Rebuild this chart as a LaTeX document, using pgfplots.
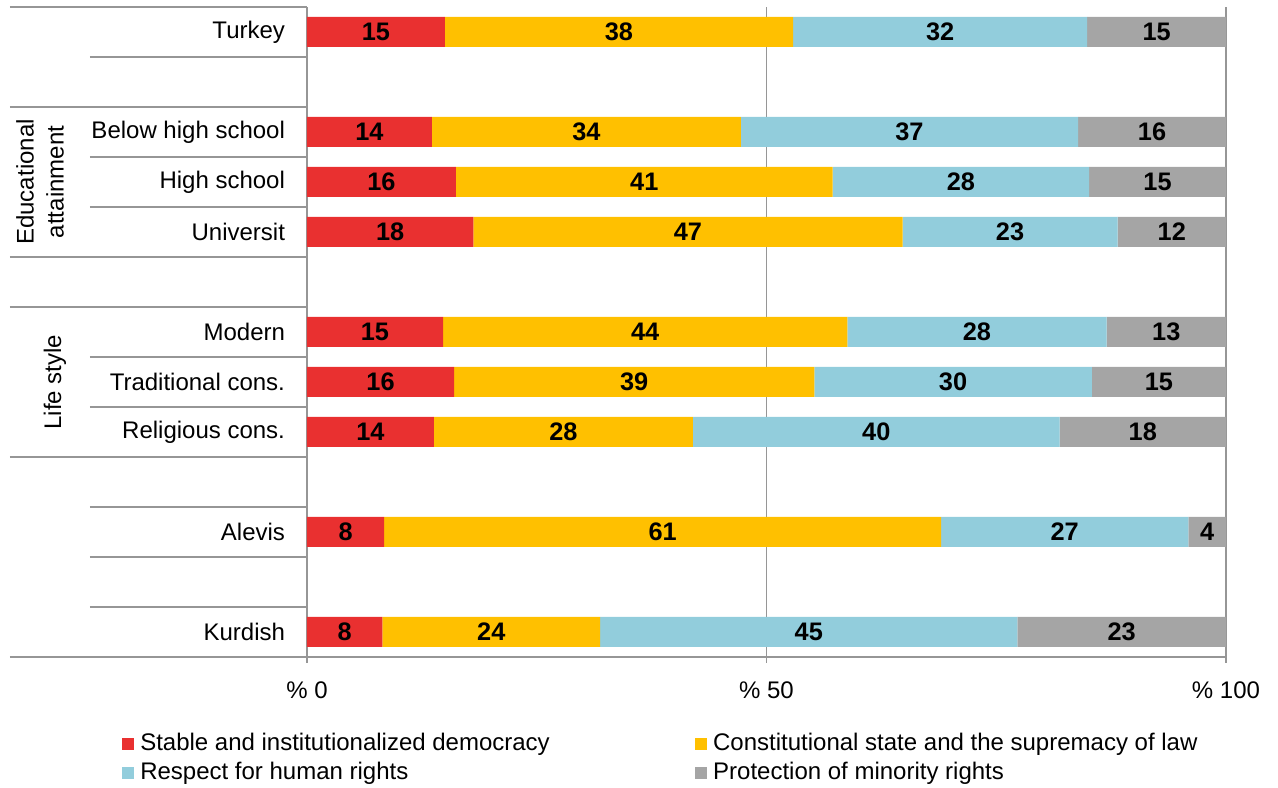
\documentclass[border=0pt]{standalone}
\usepackage{fontspec}
\setmainfont{Liberation Sans}
\usepackage{pgfplots}
\pgfplotsset{compat=1.18}
\definecolor{cred}{RGB}{233,48,48}
\definecolor{cyel}{RGB}{255,192,0}
\definecolor{ccya}{RGB}{146,205,220}
\definecolor{cgry}{RGB}{165,165,165}
\definecolor{cline}{RGB}{150,150,150}
\newcommand{\lf}{\fontsize{18}{22.5}\selectfont}
\begin{document}
\begin{tikzpicture}
\begin{axis}[
  at={(0,0)}, anchor=south west,
  scale only axis, width=689.25pt, height=487.5pt,
  xbar stacked, bar width=22.5pt,
  xmin=0, xmax=100, ymin=-0.5, ymax=12.5,
  axis x line*=bottom, axis y line*=left,
  axis line style={draw=cline, line width=1.2pt},
  xtick={0,50,100}, xticklabels={\% 0,\% 50,\% 100},
  x tick style={draw=cline, line width=1.2pt},
  tick align=outside, major tick length=4.5pt,
  xmajorgrids, grid style={draw=cline, line width=1.2pt},
  ytick={0,2,4,5,6,8,9,10,12},
  yticklabels={Kurdish,Alevis,Religious cons.,Traditional cons.,Modern,Universit,High school,Below high school,Turkey},
  y tick style={draw=none},
  tick label style={font=\lf},
  yticklabel style={xshift=-8.5pt},
  xticklabel style={yshift=-10.5pt},
  point meta=explicit symbolic,
  nodes near coords,
  every node near coord/.append style={font=\bfseries\fontsize{19}{22.5}\selectfont, text=black},
  legend columns=2,
  legend cell align=left,
  legend style={at={(axis description cs:0,0)}, anchor=north west, xshift=-138.75pt, yshift=-54.5pt,
    draw=none, fill=none, inner sep=0pt, row sep=0pt, font=\lf,
    nodes={inner sep=2pt, text height=13.5pt, text depth=4pt},
    /tikz/every even column/.append style={column sep=107pt}},
  legend image code/.code={\fill[#1] (0pt,-4.5pt) rectangle (9pt,4.5pt);},
]
\addplot[fill=cred, draw=none] coordinates {(15.0,12) [15] (13.6,10) [14] (16.2,9) [16] (18.1,8) [18] (14.8,6) [15] (16.0,5) [16] (13.8,4) [14] (8.4,2) [8] (8.2,0) [8]};
\addplot[fill=cyel, draw=none] coordinates {(37.9,12) [38] (33.6,10) [34] (41.0,9) [41] (46.7,8) [47] (44.0,6) [44] (39.2,5) [39] (28.2,4) [28] (60.6,2) [61] (23.7,0) [24]};
\addplot[fill=ccya, draw=none] coordinates {(32.0,12) [32] (36.7,10) [37] (27.9,9) [28] (23.4,8) [23] (28.2,6) [28] (30.2,5) [30] (39.9,4) [40] (26.9,2) [27] (45.4,0) [45]};
\addplot[fill=cgry, draw=none] coordinates {(15.1,12) [15] (16.1,10) [16] (14.9,9) [15] (11.8,8) [12] (13.0,6) [13] (14.6,5) [15] (18.1,4) [18] (4.1,2) [4] (22.7,0) [23]};
\legend{\hspace{2.5pt}Stable and institutionalized democracy, \hspace{2.5pt}Constitutional state and the supremacy of law, \hspace{2.5pt}Respect for human rights, \hspace{2.5pt}Protection of minority rights}
\end{axis}
% separator lines at the left of the axis
\begin{scope}[draw=cline, line width=1.2pt]
\foreach \k/\len in {12.5/222.75, 11.5/162.75, 10.5/222.75, 9.5/162.75, 8.5/162.75, 7.5/222.75, 6.5/222.75, 5.5/162.75, 4.5/162.75, 3.5/222.75, 2.5/162.75, 1.5/162.75, 0.5/162.75, -0.5/222.75}
  \draw (-\len pt, {(\k+0.5)*37.5pt}) -- (0pt, {(\k+0.5)*37.5pt});
\end{scope}
\node[rotate=90, align=center, font=\lf, inner sep=0pt] at (-200.25pt, 356.25pt) {Educational\\attainment};
\node[rotate=90, font=\lf, inner sep=0pt] at (-189pt, 206.25pt) {Life style};
\path (-230.25pt,-96.75pt) rectangle (728.25pt,492.75pt);
\end{tikzpicture}
\end{document}
